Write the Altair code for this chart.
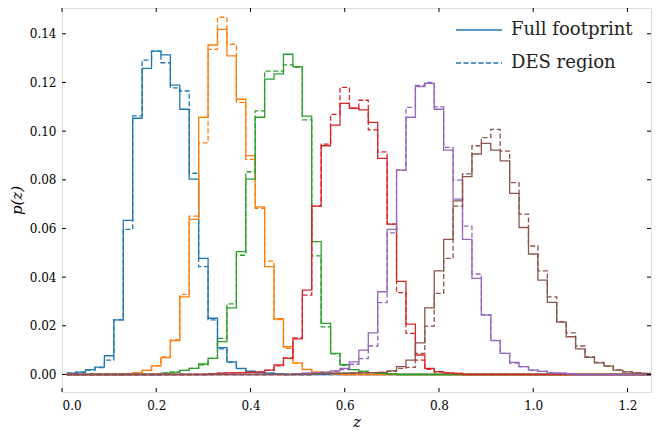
import altair as alt
import pandas as pd

# ---- data -------------------------------------------------------------
EDGE0 = 0.01      # left edge of first bin
BINW = 0.02       # bin width
NBINS = 62        # bins up to z = 1.25
ZMAX = 1.25

bin_names = ["bin1", "bin2", "bin3", "bin4", "bin5", "bin6"]
bin_colors = ["#1f77b4", "#ff7f0e", "#2ca02c", "#d62728", "#9467bd", "#8c564b"]
regions = ["Full footprint", "DES region"]

# start index (bin number) of each list below
blue_start = 0
blue_full = [0.0005, 0.001, 0.002, 0.003, 0.0077, 0.0224, 0.0633, 0.1053, 0.1258, 0.1329,
             0.1313, 0.1189, 0.1090, 0.0803, 0.0477, 0.0231, 0.0110, 0.0052, 0.0025, 0.0014,
             0.0008, 0.0005, 0.0003]
blue_des = [0.0005, 0.001, 0.0018, 0.0028, 0.0059, 0.0224, 0.0596, 0.1063, 0.1292, 0.1329,
            0.1281, 0.1178, 0.1165, 0.0827, 0.0443, 0.0224, 0.0105, 0.0050, 0.0024, 0.0013,
            0.0008, 0.0005, 0.0003]

orange_start = 6
orange_full = [0.0003, 0.0007, 0.0017, 0.0035, 0.0069, 0.0139, 0.0319, 0.0637, 0.1057, 0.1354,
               0.1418, 0.1309, 0.1131, 0.0899, 0.0689, 0.0443, 0.0229, 0.0114, 0.0048, 0.0021,
               0.0010, 0.0005, 0.0003]
orange_des = [0.0003, 0.0007, 0.0017, 0.0035, 0.0072, 0.0142, 0.0329, 0.0651, 0.0952, 0.1336,
              0.1468, 0.1357, 0.1118, 0.0884, 0.0683, 0.0466, 0.0226, 0.0107, 0.0046, 0.0020,
              0.0010, 0.0005, 0.0003]

green_start = 10
green_full = [0.0005, 0.001, 0.0017, 0.0025, 0.0043, 0.0066, 0.0135, 0.0274, 0.0505, 0.0803,
              0.1057, 0.1214, 0.1235, 0.1316, 0.1265, 0.1062, 0.0546, 0.0210, 0.0087, 0.0040,
              0.0020, 0.0013, 0.0008, 0.0005, 0.0003]
green_des = [0.0005, 0.001, 0.0017, 0.0025, 0.0040, 0.0066, 0.0148, 0.0290, 0.0490, 0.0833,
             0.1083, 0.1247, 0.1247, 0.1272, 0.1262, 0.1046, 0.0487, 0.0196, 0.0085, 0.0038,
             0.0020, 0.0013, 0.0008, 0.0005, 0.0003]

red_start = 15
red_full = [0.0003, 0.0005, 0.0007, 0.0008, 0.0009, 0.0011, 0.0018, 0.0039, 0.0066, 0.0146,
            0.0347, 0.0692, 0.0940, 0.1025, 0.1114, 0.1094, 0.1087, 0.1036, 0.0888, 0.0618,
            0.0383, 0.0207, 0.0080, 0.0025, 0.0012, 0.0007, 0.0004]
red_des = [0.0003, 0.0005, 0.0007, 0.0008, 0.0009, 0.0010, 0.0017, 0.0035, 0.0068, 0.0150,
           0.0326, 0.0692, 0.0947, 0.1069, 0.1180, 0.1094, 0.1127, 0.1005, 0.0915, 0.0618,
           0.0336, 0.0169, 0.0059, 0.0021, 0.0010, 0.0006, 0.0004]

purple_start = 24
purple_full = [0.0003, 0.0005, 0.0007, 0.0010, 0.0015, 0.0025, 0.0052, 0.0100, 0.0171, 0.0340,
               0.0596, 0.0840, 0.1057, 0.1183, 0.1196, 0.1090, 0.0922, 0.0721, 0.0555, 0.0395,
               0.0244, 0.0139, 0.0087, 0.0050, 0.0032, 0.0018, 0.0013, 0.0007, 0.0005, 0.0003]
purple_des = [0.0003, 0.0005, 0.0007, 0.0010, 0.0013, 0.0020, 0.0042, 0.0065, 0.0117, 0.0295,
              0.0582, 0.0840, 0.1098, 0.1188, 0.1200, 0.1100, 0.0933, 0.0799, 0.0610, 0.0413,
              0.0246, 0.0140, 0.0087, 0.0047, 0.0032, 0.0018, 0.0013, 0.0007, 0.0005, 0.0003]

brown_start = 26
brown_full = [0.0003, 0.0004, 0.0005, 0.0005, 0.0006, 0.0007, 0.0008, 0.0009, 0.0015, 0.0032,
              0.0059, 0.0130, 0.0274, 0.0426, 0.0555, 0.0713, 0.0813, 0.0906, 0.0950, 0.0922,
              0.0878, 0.0744, 0.0604, 0.0495, 0.0388, 0.0296, 0.0215, 0.0155, 0.0105, 0.0070,
              0.0048, 0.0034, 0.0018, 0.0011, 0.0006, 0.0004]
brown_des = [0.0003, 0.0004, 0.0005, 0.0005, 0.0006, 0.0007, 0.0008, 0.0009, 0.0013, 0.0025,
             0.0029, 0.0087, 0.0199, 0.0333, 0.0477, 0.0692, 0.0824, 0.0940, 0.0973, 0.1007,
             0.0918, 0.0788, 0.0659, 0.0528, 0.0426, 0.0319, 0.0217, 0.0171, 0.0117, 0.0072,
             0.0050, 0.0035, 0.0019, 0.0011, 0.0006, 0.0004]

x_ticks = [0.0, 0.2, 0.4, 0.6, 0.8, 1.0, 1.2]
y_ticks = [0.00, 0.02, 0.04, 0.06, 0.08, 0.10, 0.12, 0.14]

# ---- build step-histogram table ----------------------------------------
series = [
    ("bin1", blue_start, blue_full, blue_des),
    ("bin2", orange_start, orange_full, orange_des),
    ("bin3", green_start, green_full, green_des),
    ("bin4", red_start, red_full, red_des),
    ("bin5", purple_start, purple_full, purple_des),
    ("bin6", brown_start, brown_full, brown_des),
]
rows = []
for name, start, full, des in series:
    for region, vals in ((regions[0], full), (regions[1], des)):
        padded = [0.0] * NBINS
        for i, v in enumerate(vals):
            if start + i < NBINS:
                padded[start + i] = v
        for k in range(NBINS):
            rows.append({"bin": name, "region": region, "z": round(EDGE0 + BINW * k, 4),
                         "p": padded[k], "k": k})
        rows.append({"bin": name, "region": region, "z": ZMAX, "p": padded[-1], "k": NBINS})
df = pd.DataFrame(rows)

W, H = 589, 384
FONT = "DejaVu Serif"
xscale = alt.Scale(domain=[0, ZMAX], nice=False, zero=False)
yscale = alt.Scale(domain=[-0.0072, 0.1506], nice=False, zero=False)

lines = alt.Chart(df).mark_line(interpolate="step-after", strokeWidth=1.3).encode(
    x=alt.X("z:Q", scale=xscale,
            axis=alt.Axis(values=x_ticks, format=".1f", title="z", ticks=False, domain=False,
                          grid=False, labelPadding=8, titlePadding=3, labelFontSize=12,
                          titleFontSize=15, titleFontStyle="italic", titleFontWeight="normal",
                          labelFont=FONT, titleFont=FONT, labelColor="black", titleColor="black")),
    y=alt.Y("p:Q", scale=yscale,
            axis=alt.Axis(values=y_ticks, format=".2f", title="p(z)", ticks=False, domain=False,
                          grid=False, labelPadding=6, titlePadding=5, labelFontSize=12,
                          titleFontSize=15, titleFontStyle="italic", titleFontWeight="normal",
                          labelFont=FONT, titleFont=FONT, labelColor="black", titleColor="black")),
    color=alt.Color("bin:N", scale=alt.Scale(domain=bin_names, range=bin_colors), legend=None),
    strokeDash=alt.StrokeDash("region:N",
                              scale=alt.Scale(domain=regions, range=[[1, 0], [5, 2.5]]),
                              legend=alt.Legend(orient="none", legendX=393, legendY=-2, title=None,
                                                symbolType="stroke", symbolSize=2116,
                                                symbolStrokeWidth=1.3,
                                                symbolStrokeColor="#1f77b4",
                                                labelFont=FONT, labelFontSize=18,
                                                labelColor="#222222", labelOffset=8,
                                                rowPadding=-14, padding=0)),
    order="k:Q",
)

xt = pd.DataFrame({"v": x_ticks})
yt = pd.DataFrame({"v": y_ticks})
tick_style = dict(color="black", strokeWidth=1)
bottom_ticks = alt.Chart(xt).mark_rule(**tick_style).encode(
    x=alt.X("v:Q", scale=xscale), y=alt.value(H), y2=alt.value(H - 4))
top_ticks = alt.Chart(xt).mark_rule(**tick_style).encode(
    x=alt.X("v:Q", scale=xscale), y=alt.value(0), y2=alt.value(4))
left_ticks = alt.Chart(yt).mark_rule(**tick_style).encode(
    y=alt.Y("v:Q", scale=yscale), x=alt.value(0), x2=alt.value(4))
right_ticks = alt.Chart(yt).mark_rule(**tick_style).encode(
    y=alt.Y("v:Q", scale=yscale), x=alt.value(W), x2=alt.value(W - 4))

chart = alt.layer(lines, bottom_ticks, top_ticks, left_ticks, right_ticks).properties(
    width=W, height=H,
    autosize=alt.AutoSizeParams(type="none"),
    padding={"left": 54, "top": 0, "right": 10, "bottom": 40},
).configure_view(stroke="black", strokeWidth=1).configure(background="white")

chart.save("out.html", embed_options={"renderer": "svg", "actions": False})
